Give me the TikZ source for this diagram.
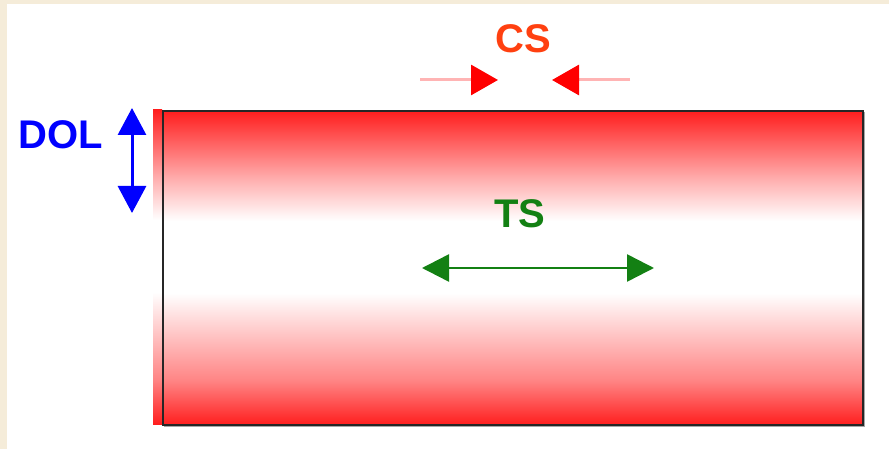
\documentclass[tikz,border=0pt]{standalone}
\usepackage{fontspec}
\setmainfont{Liberation Sans}
\usetikzlibrary{arrows.meta}
\definecolor{cream}{HTML}{F5ECD9}
\definecolor{barred}{HTML}{FF1E1E}
\definecolor{csred}{HTML}{FF4010}
\definecolor{cspink}{HTML}{FFB4B4}
\definecolor{tsgreen}{HTML}{138013}
\definecolor{dolblue}{HTML}{0000FF}
\pgfdeclareverticalshading{barshade}{100bp}{%
  color(0bp)=(barred); color(25bp)=(barred);
  color(32bp)=(barred!55!white); color(46bp)=(white);
  color(57.5bp)=(white); color(64bp)=(barred!35!white);
  color(75bp)=(barred); color(100bp)=(barred)}
\begin{document}
\begin{tikzpicture}[x=1pt,y=-1pt,
  lbl/.style={font=\fontsize{40}{40}\selectfont\bfseries, inner sep=0pt},
  barfill/.style={shading=barshade}
]
\useasboundingbox (0,0) rectangle (889,449);
\fill[cream] (0,0) rectangle (889,449);
\fill[white] (7,4) rectangle (889,449);
% left red strip
\shade[barfill] (153,110) rectangle (162,424);
% shadow
\draw[gray!70, line width=2pt] (164,426) -- (864,426) -- (864,112);
% main bar
\node[draw=black!85, line width=2pt, barfill, minimum width=700pt, minimum height=314pt, inner sep=0pt, anchor=north west] (bar) at (162,110) {};
% labels
\node[lbl, text=csred] (cs) at (523,39) {CS};
\node[lbl, text=tsgreen] (ts) at (520,214) {TS};
\node[lbl, text=dolblue] (dol) at (61,135) {DOL};
% CS arrows
\coordinate (csl0) at (420,80);
\coordinate (csl1) at (498,80);
\coordinate (csr0) at (630,80);
\coordinate (csr1) at (552,80);
\draw[cspink, line width=3pt, -{Triangle[length=27pt,width=30pt,fill=red,color=red]}] (csl0) -- (csl1);
\draw[cspink, line width=3pt, -{Triangle[length=27pt,width=30pt,fill=red,color=red]}] (csr0) -- (csr1);
% TS arrow
\coordinate (tsl) at (422,268);
\coordinate (tsr) at (654,268);
\draw[tsgreen, line width=2.5pt, {Triangle[length=27pt,width=27pt]}-{Triangle[length=27pt,width=27pt]}] (tsl) -- (tsr);
% DOL arrow
\coordinate (dolt) at (132,108);
\coordinate (dolb) at (132,213);
\draw[dolblue, line width=3pt, {Triangle[length=27pt,width=28pt]}-{Triangle[length=27pt,width=28pt]}] (dolt) -- (dolb);
\end{tikzpicture}
\end{document}
